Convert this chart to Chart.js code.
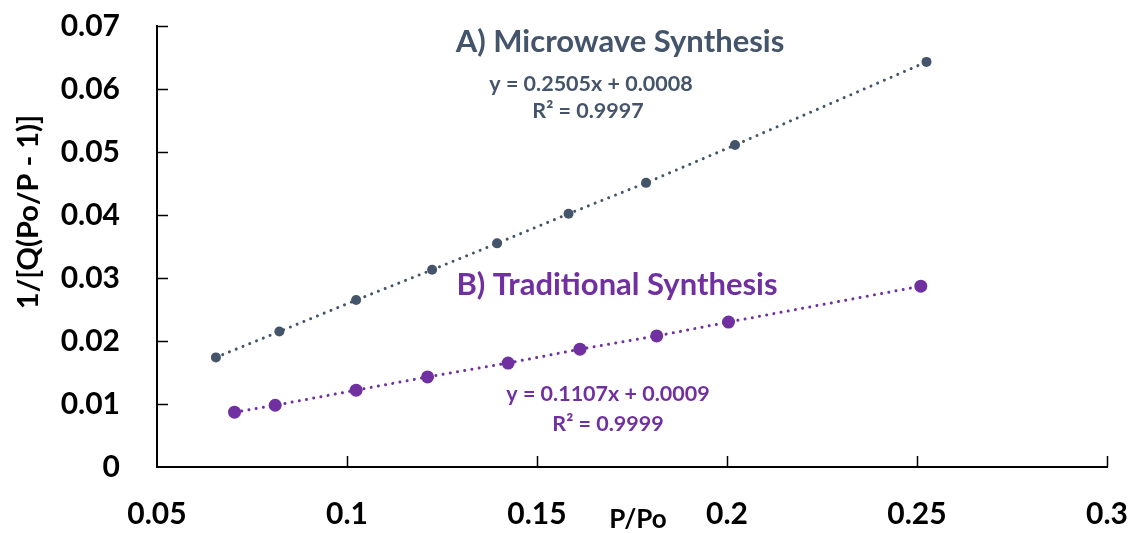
<!DOCTYPE html>
<html>
<head>
<meta charset="utf-8">
<script src="https://cdn.jsdelivr.net/npm/chart.js@4"></script>
<style>
html,body{margin:0;padding:0;background:#ffffff;}
#c{display:block;}
</style>
</head>
<body>
<canvas id="c" width="1133" height="533"></canvas>
<script>
// ---- data ----
const microwaveX = [0.0655, 0.0822, 0.1024, 0.1224, 0.1395, 0.1583, 0.1787, 0.2021, 0.2525];
const microwaveY = [0.0174, 0.0215, 0.0265, 0.0313, 0.0355, 0.0402, 0.0451, 0.0511, 0.0643];
const traditionalX = [0.0704, 0.0811, 0.1024, 0.1212, 0.1424, 0.1613, 0.1815, 0.2004, 0.2510];
const traditionalY = [0.0087, 0.0098, 0.0122, 0.0143, 0.0165, 0.0187, 0.0208, 0.0230, 0.0287];
const xTicks = [0.05, 0.1, 0.15, 0.2, 0.25, 0.3];
const xTickLabels = ['0.05', '0.1', '0.15', '0.2', '0.25', '0.3'];
const yTicks = [0, 0.01, 0.02, 0.03, 0.04, 0.05, 0.06, 0.07];
const yTickLabels = ['0', '0.01', '0.02', '0.03', '0.04', '0.05', '0.06', '0.07'];
const seriesTitles = ['A) Microwave Synthesis', 'B) Traditional Synthesis'];
const equationLines = [['y = 0.2505x + 0.0008', 'R\u00B2 = 0.9997'], ['y = 0.1107x + 0.0009', 'R\u00B2 = 0.9999']];
const xTitle = 'P/Po';
const yTitle = '1/[Q(Po/P - 1)]';

const GRAY = '#44546A';
const PURPLE = '#7030A0';
const FONT = 'Lato, "Open Sans", sans-serif';

const toPts = (xs, ys) => xs.map((x, i) => ({x: x, y: ys[i]}));

const overlay = {
  id: 'overlay',
  afterDraw(chart) {
    const ctx = chart.ctx, a = chart.chartArea, x = chart.scales.x, y = chart.scales.y;
    ctx.save();
    ctx.strokeStyle = '#000';
    ctx.lineWidth = 1.5;
    yTicks.forEach(v => {
      if (v === 0) return;
      const py = Math.round(y.getPixelForValue(v)) + 0.5;
      ctx.beginPath(); ctx.moveTo(a.left, py); ctx.lineTo(a.left + 11, py); ctx.stroke();
    });
    xTicks.forEach(v => {
      if (v === xTicks[0]) return;
      const px = Math.round(x.getPixelForValue(v)) + 0.5;
      ctx.beginPath(); ctx.moveTo(px, a.bottom); ctx.lineTo(px, a.bottom - 11); ctx.stroke();
    });
    ctx.textAlign = 'center';
    ctx.textBaseline = 'middle';
    // axis titles
    ctx.fillStyle = '#000';
    ctx.font = 'bold 26px ' + FONT;
    ctx.fillText(xTitle, 638, 520);
    ctx.save();
    ctx.translate(29, 212);
    ctx.rotate(-Math.PI / 2);
    ctx.font = 'bold 29px ' + FONT;
    ctx.fillText(yTitle, 0, 0);
    ctx.restore();
    // series titles and trendline labels
    ctx.fillStyle = GRAY;
    ctx.font = 'bold 31px ' + FONT;
    ctx.fillText(seriesTitles[0], 620, 42);
    ctx.font = 'bold 21.5px ' + FONT;
    ctx.fillText(equationLines[0][0], 591, 84);
    ctx.fillText(equationLines[0][1], 588, 111);
    ctx.fillStyle = PURPLE;
    ctx.font = 'bold 31px ' + FONT;
    ctx.fillText(seriesTitles[1], 617, 285);
    ctx.font = 'bold 21.5px ' + FONT;
    ctx.fillText(equationLines[1][0], 608, 394);
    ctx.fillText(equationLines[1][1], 608, 424);
    ctx.restore();
  }
};

new Chart(document.getElementById('c'), {
  type: 'scatter',
  data: {
    datasets: [
      {
        label: seriesTitles[0],
        data: toPts(microwaveX, microwaveY),
        showLine: true,
        borderColor: GRAY,
        backgroundColor: GRAY,
        borderWidth: 3,
        borderDash: [0.01, 7.3],
        borderCapStyle: 'round',
        pointRadius: 5,
        pointBorderWidth: 0,
        pointBackgroundColor: GRAY
      },
      {
        label: seriesTitles[1],
        data: toPts(traditionalX, traditionalY),
        showLine: true,
        borderColor: PURPLE,
        backgroundColor: PURPLE,
        borderWidth: 3,
        borderDash: [0.01, 7.3],
        borderCapStyle: 'round',
        pointRadius: 6.5,
        pointBorderWidth: 0,
        pointBackgroundColor: PURPLE
      }
    ]
  },
  options: {
    responsive: false,
    animation: false,
    layout: {padding: {top: 26, right: 26, left: 0, bottom: 0}},
    plugins: {legend: {display: false}, tooltip: {enabled: false}},
    scales: {
      x: {
        type: 'linear',
        min: 0.05, max: 0.3,
        afterBuildTicks: s => { s.ticks = xTicks.map(v => ({value: v})); },
        afterFit: s => { s.height = 66; s.paddingLeft = 0; s.paddingRight = 0; },
        grid: {display: false, drawTicks: false},
        border: {display: true, color: '#000', width: 2},
        ticks: {
          color: '#000',
          font: {family: FONT, weight: 'bold', size: 30},
          padding: 29,
          maxRotation: 0,
          autoSkip: false,
          callback: (v, i) => xTickLabels[i]
        }
      },
      y: {
        type: 'linear',
        min: 0, max: 0.07,
        afterBuildTicks: s => { s.ticks = yTicks.map(v => ({value: v})); },
        afterFit: s => { s.width = 157; s.paddingTop = 0; s.paddingBottom = 0; },
        grid: {display: false, drawTicks: false},
        border: {display: true, color: '#000', width: 2},
        ticks: {
          color: '#000',
          font: {family: FONT, weight: 'bold', size: 30},
          padding: 37,
          autoSkip: false,
          callback: (v, i) => yTickLabels[i]
        }
      }
    }
  },
  plugins: [overlay]
});
</script>
</body>
</html>
